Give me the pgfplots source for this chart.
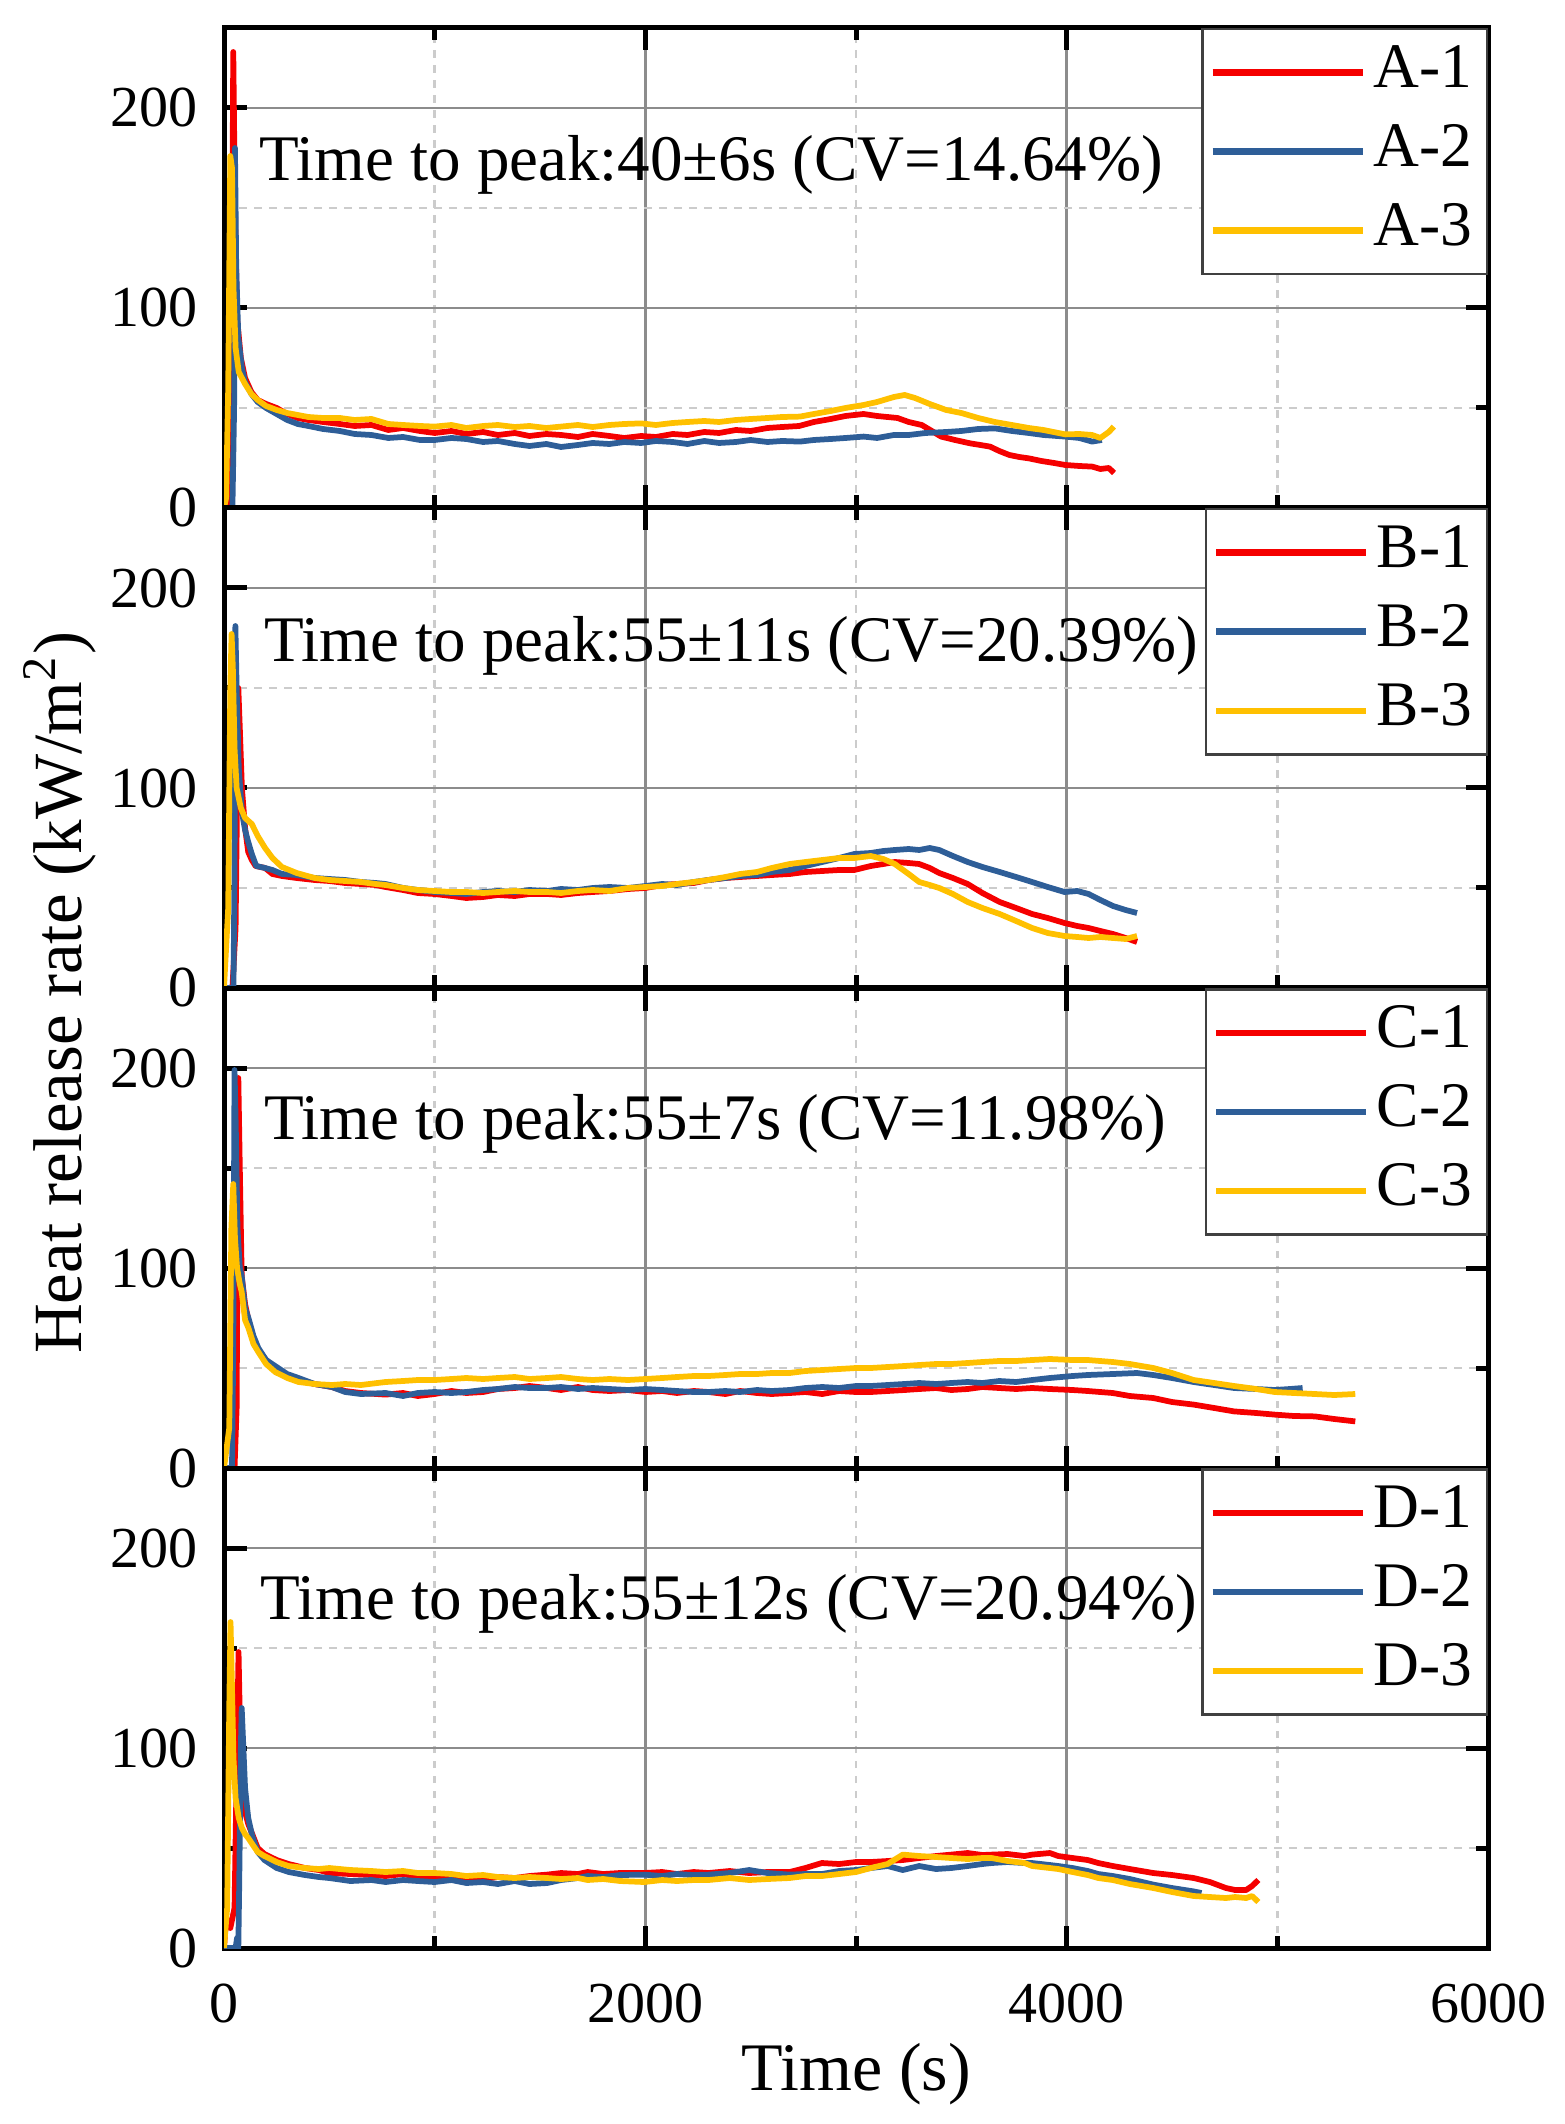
\documentclass[border=0pt]{standalone}
\usepackage{fontspec}
\setmainfont{Liberation Serif}
\usepackage{pgfplots}
\pgfplotsset{compat=1.18}
\definecolor{cred}{RGB}{245,0,0}
\definecolor{cblue}{RGB}{46,94,152}
\definecolor{cyel}{RGB}{255,192,0}
\pgfplotsset{
  panel/.style={
    scale only axis, width=252.8pt, height=96pt,
    xmin=0, xmax=6000, ymin=0, ymax=240,
    xtick={0,2000,4000,6000}, ytick={0,100,200},
    minor xtick={1000,3000,5000}, minor ytick={50,150},
    tick align=inside,
    major tick length=4.5pt, minor tick length=2.5pt,
    every tick/.style={black, line width=1pt},
    axis line style={line width=1pt},
    grid=both,
    major grid style={black!45, line width=0.5pt},
    minor grid style={black!20, line width=0.5pt, dash pattern=on 1.5pt off 1.5pt},
    ticklabel style={font=\fontsize{11.6}{13}\selectfont},
    /pgf/number format/assume math mode=true,
    /pgf/number format/1000 sep={},
    scaled ticks=false,
    yticklabel style={xshift=-1.7pt},
    xticklabel style={anchor=center, yshift=-11pt},
    legend style={at={(1,1)}, anchor=north east, draw=black!75, line width=0.5pt, fill=white,
      font=\fontsize{12.7}{15}\selectfont, inner xsep=1.4pt, inner ysep=1.7pt, row sep=1.8pt,
      nodes={inner sep=1.5pt, text height=8.5pt, text depth=2.5pt}},
    legend cell align=left,
    legend image code/.code={\draw[##1, line width=1.3pt] (0pt,0pt) -- (30pt,0pt);},
    every axis plot/.append style={line width=1.15pt, line join=round},
  }
}
\begin{document}
\begin{tikzpicture}
% ---------------- Panel A ----------------
\begin{axis}[panel, at={(44.8pt,-5.6pt)}, anchor=north west, xticklabels={}]
\addplot[cred] coordinates {(0,0) (20,2) (35,60) (44,228) (52,150) (62,95) (80,75) (100,65) (130,58) (160,54) (200,52) (250,50) (300,47) (350,45) (400,44) (470,43) (550,42) (620,41) (700,41.5) (780,39) (850,40) (930,38.5) (1000,37.5) (1080,38.5) (1150,37) (1230,38) (1300,36.5) (1380,37.5) (1450,36) (1530,37) (1600,36.5) (1680,35.5) (1750,37) (1830,36) (1900,35) (1980,36) (2050,35.5) (2130,37) (2200,36.5) (2280,38) (2350,37.5) (2430,39) (2500,38.5) (2580,40) (2650,40.5) (2730,41) (2800,43) (2880,44.5) (2950,46) (3036,47) (3100,46) (3197,45) (3250,43) (3312,41.5) (3360,38.5) (3404,35.7) (3470,34) (3543,32.3) (3590,31.5) (3636,30.7) (3680,28.5) (3728,26.5) (3775,25.5) (3821,24.8) (3880,23.5) (3940,22.5) (3994,21.5) (4060,21) (4121,20.7) (4160,19.5) (4200,20) (4225,17.5)};
\addplot[cblue] coordinates {(0,0) (40,0) (48,50) (52,180) (58,120) (68,85) (85,70) (100,63) (130,57) (160,53) (200,50) (250,47) (300,44) (350,42) (400,41) (470,39.5) (550,38.5) (620,37) (700,36.5) (780,35) (850,35.5) (930,34) (1000,34) (1080,35) (1150,34.5) (1230,33) (1300,33.5) (1380,32) (1450,31) (1530,32) (1600,30.5) (1680,31.5) (1750,32.5) (1830,32) (1900,33) (1980,32.5) (2050,33.5) (2130,33) (2200,32) (2280,33.5) (2350,32.5) (2430,33) (2500,34) (2580,33) (2650,33.5) (2734,33.2) (2800,34) (2880,34.5) (2950,35) (3036,35.7) (3100,35) (3180,36.5) (3250,36.5) (3330,37.5) (3428,38) (3500,38.5) (3580,39.5) (3659,39.8) (3740,38.5) (3820,37.5) (3890,36.5) (3994,35.7) (4060,35) (4121,33.2) (4167,34)};
\addplot[cyel] coordinates {(0,0) (10,5) (20,60) (30,176) (38,170) (45,110) (55,80) (70,68) (100,62) (130,57) (160,54) (200,51) (250,49) (300,47.5) (350,46.5) (400,45.5) (470,45) (550,45) (620,44) (700,44.5) (780,42) (850,41.5) (930,41) (1000,40.7) (1080,41.5) (1150,40) (1230,41) (1300,41.5) (1380,40.5) (1450,41) (1530,40) (1600,40.7) (1680,41.5) (1750,40.5) (1830,41.5) (1900,42) (1980,42.3) (2050,41.5) (2130,42.5) (2200,43) (2280,43.5) (2350,43) (2430,44) (2500,44.5) (2580,45) (2650,45.5) (2734,45.7) (2800,47) (2880,48.5) (2950,50) (3036,51.5) (3100,53) (3180,55.5) (3231,56.5) (3280,55) (3350,52) (3428,49) (3500,47.5) (3580,45) (3659,43) (3740,41.5) (3820,40) (3890,39) (3994,36.8) (4060,37) (4121,36.5) (4160,35) (4200,38) (4224,40.7)};
\legend{A-1,A-2,A-3}
\node[anchor=base west, inner sep=0pt, font=\fontsize{13}{15}\selectfont] at (rel axis cs:0.027,0.683) {Time to peak:40±6s (CV=14.64\%)};
\end{axis}
% ---------------- Panel B ----------------
\begin{axis}[panel, at={(44.8pt,-101.6pt)}, anchor=north west, xticklabels={}]
\addplot[cred] coordinates {(0,0) (40,0) (55,30) (68,150) (75,130) (85,100) (100,80) (115,68) (132,64) (150,61) (195,60) (230,57) (275,56) (345,55) (430,54) (500,53.5) (575,52.5) (650,52) (720,51.5) (767,50.5) (850,49) (920,47.5) (1000,47) (1080,46) (1150,45) (1230,45.5) (1300,46.5) (1380,46) (1450,47) (1534,47) (1600,46.5) (1680,47.5) (1750,48) (1830,48.5) (1918,49.5) (2000,50) (2080,51.5) (2150,52) (2230,52.5) (2300,54) (2380,55) (2450,55.5) (2530,56) (2600,56.5) (2685,57) (2760,58) (2840,58.5) (2920,59) (2992,59) (3070,61) (3130,62) (3184,63) (3250,62.5) (3300,62) (3350,60) (3395,57.5) (3460,55) (3530,52) (3600,47.5) (3682,43) (3760,40) (3836,37) (3910,35) (3990,32.5) (4050,31) (4104,30) (4160,28.5) (4220,27) (4280,25) (4334,23)};
\addplot[cblue] coordinates {(0,0) (45,0) (50,60) (54,181) (60,150) (70,110) (85,88) (100,79) (115,73) (132,67) (153,61) (195,60) (230,59) (275,57) (345,56.5) (430,55) (500,54.5) (575,54) (650,53) (720,52.5) (767,52) (850,50) (920,49) (1000,48) (1080,47.5) (1150,47) (1230,48) (1300,48.5) (1380,48) (1450,49) (1534,48.5) (1600,49.5) (1680,49) (1750,50) (1830,50.5) (1918,50) (2000,51) (2080,52) (2150,51.5) (2230,53) (2300,54) (2380,55) (2450,56) (2530,56.5) (2600,58) (2685,59) (2760,61) (2840,63) (2920,65) (2992,67) (3070,67.5) (3130,68.5) (3184,69) (3250,69.5) (3300,69) (3350,70) (3395,69) (3460,66) (3530,63) (3600,60.5) (3682,58) (3760,55.5) (3836,53) (3910,50.5) (3990,48) (4050,48.5) (4104,47) (4160,44) (4220,41) (4280,39) (4334,37.5)};
\addplot[cyel] coordinates {(0,0) (20,40) (30,150) (36,177) (42,160) (50,120) (60,100) (80,90) (100,85) (132,82) (160,76) (195,70) (230,65) (275,60.5) (345,57.5) (430,55) (500,54) (575,53.5) (650,53) (720,52) (767,51.5) (850,50) (920,49) (1000,48.5) (1080,48) (1150,48) (1230,47.5) (1300,48) (1380,48.5) (1450,48) (1534,48) (1600,47.5) (1680,48.5) (1750,49) (1830,48.5) (1918,50) (2000,50.5) (2080,51) (2150,52) (2230,53) (2300,54) (2380,55.5) (2450,57) (2530,58) (2600,60) (2685,62) (2760,63) (2840,64) (2920,65) (2992,65) (3070,66) (3130,64.5) (3184,62) (3250,57) (3300,53) (3350,51.5) (3395,50) (3460,47) (3530,43) (3600,40) (3682,37) (3760,33.5) (3836,30) (3910,27.5) (3990,26) (4050,25.5) (4104,25) (4160,25.5) (4220,25) (4280,24.5) (4334,26)};
\legend{B-1,B-2,B-3}
\node[anchor=base west, inner sep=0pt, font=\fontsize{13}{15}\selectfont] at (rel axis cs:0.031,0.681) {Time to peak:55±11s (CV=20.39\%)};
\end{axis}
% ---------------- Panel C ----------------
\begin{axis}[panel, at={(44.8pt,-197.6pt)}, anchor=north west, xticklabels={}]
\addplot[cred] coordinates {(0,0) (50,0) (60,30) (68,195) (75,150) (84,96) (100,82) (116,74) (140,65) (163,59) (200,54) (243,50) (300,46) (354,44) (430,42) (512,40.5) (575,38.5) (650,37.5) (767,36.7) (850,37.5) (920,36) (1000,37) (1080,38.5) (1150,37.5) (1230,38) (1300,39.5) (1380,40) (1450,41) (1534,40) (1600,39) (1680,40.5) (1750,39) (1830,38.5) (1918,39) (2000,38) (2080,38.5) (2150,37.5) (2230,38.5) (2300,38) (2380,37) (2450,38.5) (2530,37.5) (2600,37) (2685,37.5) (2760,38) (2840,37) (2920,38.5) (3000,38) (3070,38) (3150,38.5) (3230,39) (3300,39.5) (3380,40) (3452,39) (3530,39.5) (3600,40.5) (3680,40) (3760,39.5) (3836,40) (3920,39.5) (4028,39) (4100,38.5) (4219,37.5) (4300,36) (4411,35) (4500,33) (4603,31.7) (4700,30) (4795,28.3) (4900,27.5) (4987,26.7) (5080,26) (5178,25.8) (5270,24.5) (5370,23.3)};
\addplot[cblue] coordinates {(0,0) (38,0) (44,60) (50,199) (56,170) (64,120) (75,100) (84,96) (100,80) (116,75) (140,66) (163,60) (200,54) (243,51) (300,47) (354,45) (430,42) (512,40.5) (575,38) (650,37) (767,37.5) (850,36) (920,37.5) (1000,38) (1080,37.5) (1150,38) (1230,39) (1300,39.5) (1380,40.5) (1450,40) (1534,40) (1600,40.5) (1680,39.5) (1750,40) (1830,39.5) (1918,39) (2000,39.5) (2080,39) (2150,38.5) (2230,38) (2300,38) (2380,38.5) (2450,38) (2530,39) (2600,38.5) (2685,39) (2760,40) (2840,40.5) (2920,40) (3000,41) (3070,41) (3150,41.5) (3230,42) (3300,42.5) (3380,42) (3452,42.5) (3530,43) (3600,42.5) (3680,43.5) (3760,43) (3836,44) (3920,45) (4028,46) (4100,46.5) (4219,47) (4334,47.5) (4411,46.5) (4500,45) (4603,43) (4700,41.5) (4795,40) (4900,39.5) (4987,39) (5060,39.5) (5120,40)};
\addplot[cyel] coordinates {(0,0) (25,20) (35,120) (44,142) (52,115) (62,100) (75,92) (84,88) (100,74) (116,70) (140,62) (163,58) (200,52) (243,48) (300,45) (354,43) (430,42) (512,41.5) (575,42) (650,41.5) (767,43) (850,43.5) (920,44) (1000,44) (1080,44.5) (1150,45) (1230,44.5) (1300,45) (1380,45.5) (1450,44.5) (1534,45) (1600,45.5) (1680,44.5) (1750,44) (1830,44.5) (1918,44) (2000,44.5) (2080,45) (2150,45.5) (2230,46) (2300,46) (2380,46.5) (2450,47) (2530,47) (2600,47.5) (2685,47.5) (2760,48.5) (2840,49) (2920,49.5) (3000,50) (3070,50) (3150,50.5) (3230,51) (3300,51.5) (3380,52) (3452,52) (3530,52.5) (3600,53) (3680,53.5) (3760,53.5) (3836,54) (3920,54.5) (4028,54) (4100,54) (4219,53) (4300,52) (4411,50) (4500,47.5) (4603,44) (4700,42.5) (4795,41) (4900,39.5) (4987,38) (5080,37.5) (5178,37) (5270,36.5) (5370,37)};
\legend{C-1,C-2,C-3}
\node[anchor=base west, inner sep=0pt, font=\fontsize{13}{15}\selectfont] at (rel axis cs:0.031,0.684) {Time to peak:55±7s (CV=11.98\%)};
\end{axis}
% ---------------- Panel D ----------------
\begin{axis}[panel, at={(44.8pt,-293.6pt)}, anchor=north west,
  xlabel={Time (s)},
  x label style={at={(axis description cs:0.5,-0.2625)}, anchor=center, font=\fontsize{13.6}{16}\selectfont}]
\addplot[cred] coordinates {(0,0) (10,15) (30,10) (50,20) (62,100) (69,148) (76,110) (85,80) (100,68) (115,62) (134,57) (160,50) (192,47) (250,44) (307,42) (384,40) (450,39) (500,37.5) (600,37) (700,36.5) (767,36) (850,37) (920,35.5) (1000,36) (1080,35) (1150,35) (1230,34.5) (1300,35.5) (1380,35) (1450,36) (1534,36.7) (1600,37.5) (1680,37) (1726,38) (1800,37) (1880,37.5) (1995,37.5) (2080,38) (2150,37) (2230,38) (2300,37.5) (2400,38.5) (2493,37.5) (2580,38) (2685,38) (2760,40) (2838,42.5) (2920,42) (3000,43) (3070,43) (3150,43.5) (3222,44) (3300,45) (3380,46) (3452,46.7) (3530,47.5) (3600,46.5) (3644,46.7) (3720,47) (3800,46) (3836,46.7) (3920,47.5) (3960,46) (4028,45) (4100,44) (4150,42.5) (4219,41) (4300,39.5) (4411,37.5) (4500,36.5) (4603,35) (4680,33) (4756,30) (4800,29) (4852,29) (4880,31) (4910,34)};
\addplot[cblue] coordinates {(0,0) (55,0) (62,5) (68,0) (72,30) (80,100) (84,120) (92,100) (100,80) (115,65) (134,56) (160,48) (192,44) (250,40) (307,38) (384,36.5) (450,35.5) (500,35) (600,33.5) (700,34) (767,33) (850,34) (920,33.5) (1000,33) (1080,34) (1150,32.5) (1230,33) (1300,32) (1380,33.5) (1450,32) (1534,32.5) (1600,34) (1680,35) (1726,36) (1800,35.5) (1880,36.5) (1995,36.7) (2080,36) (2150,37) (2230,36.5) (2300,36.7) (2400,37.5) (2493,39) (2580,37.5) (2685,36.7) (2760,37) (2838,37) (2920,38.5) (3000,39) (3070,40) (3150,41) (3222,39) (3300,41) (3380,39.5) (3452,40) (3530,41) (3600,42) (3644,42.5) (3720,43) (3800,42.5) (3836,42.5) (3920,41.5) (3960,41) (4028,40) (4100,38.5) (4150,37) (4219,36) (4300,34.5) (4411,31.7) (4500,30) (4603,28.3) (4640,27.5)};
\addplot[cyel] coordinates {(0,0) (15,20) (25,120) (31,163) (38,130) (45,95) (55,75) (70,65) (85,60) (100,57) (115,55) (134,52) (160,48) (192,46) (250,43) (307,41) (384,40) (450,39.5) (500,40) (600,39) (700,38.5) (767,38) (850,38.5) (920,37.5) (1000,37.5) (1080,37) (1150,36) (1230,36.5) (1300,35.5) (1380,35) (1450,35.5) (1534,35) (1600,34.5) (1680,35) (1726,34) (1800,34.5) (1880,33.5) (1995,33) (2080,34) (2150,33.5) (2230,34) (2300,34) (2400,35) (2493,34) (2580,34.5) (2685,35) (2760,36) (2838,36) (2920,37) (3000,38) (3070,40) (3150,42) (3222,46.7) (3300,46) (3380,45.5) (3452,45) (3530,44.5) (3600,45) (3644,45) (3720,43.5) (3800,42.5) (3836,41) (3920,40) (3960,39.5) (4028,38) (4100,36.5) (4150,35) (4219,34) (4300,32) (4411,30) (4500,28) (4603,26) (4680,25.5) (4756,25) (4800,25.5) (4852,25) (4880,26) (4910,23)};
\legend{D-1,D-2,D-3}
\node[anchor=base west, inner sep=0pt, font=\fontsize{13}{15}\selectfont] at (rel axis cs:0.028,0.684) {Time to peak:55±12s (CV=20.94\%)};
\end{axis}
\node[rotate=90, font=\fontsize{13.8}{16}\selectfont] at (12pt,-198.6pt) {Heat release rate (kW/m\textsuperscript{2})};
\pgfresetboundingbox
\useasboundingbox (0pt,0pt) rectangle (312.8pt,-424.8pt);
\end{tikzpicture}
\end{document}
